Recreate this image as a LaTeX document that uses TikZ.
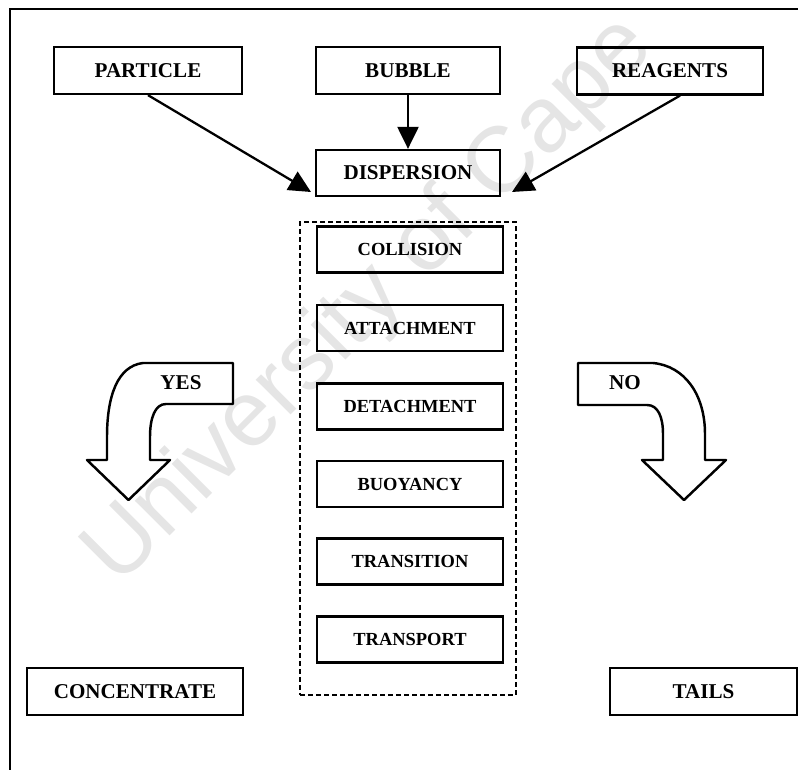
\documentclass[tikz,border=0pt]{standalone}
\usepackage{fontspec}
\setmainfont{Liberation Serif}
\newfontfamily\marksans{Liberation Sans}
\usetikzlibrary{arrows.meta}
\begin{document}
\begin{tikzpicture}[x=0.02cm, y=-0.02cm,
  box/.style={draw, line width=1.3pt, inner sep=0pt, minimum height=0.94cm,
    font=\bfseries\fontsize{12}{14}\selectfont},
  stage/.style={box, minimum width=3.72cm, minimum height=0.92cm,
    font=\bfseries\fontsize{10.5}{12}\selectfont},
  frame/.style={draw, line width=1.3pt, dash pattern=on 0.1cm off 0.06cm, inner sep=0pt},
  feed/.style={line width=1.3pt, -{Triangle[length=0.44cm,width=0.42cm]}},
  bigarrow/.style={draw, fill=white, line width=1.4pt, line join=round},
  flag/.style={font=\bfseries\fontsize{12}{14}\selectfont}]
\useasboundingbox (0,0) rectangle (798,770);
\node [rotate=45, text=black!10, font=\marksans\fontsize{53}{60}\selectfont] (mark) at (370,302) {University of Cape};
\draw [line width=1.3pt] (10,770) -- (10,9) -- (798,9);
\node [box, minimum width=3.76cm] (particle) at (148,70.5) {PARTICLE};
\node [box, minimum width=3.68cm] (bubble) at (408,70.5) {BUBBLE};
\node [box, minimum width=3.72cm] (reagents) at (670,71) {REAGENTS};
\node [box, minimum width=3.68cm, minimum height=0.92cm] (dispersion) at (408,173) {DISPERSION};
\coordinate (pin) at (311,192);
\coordinate (rin) at (512,192);
\draw [feed] (particle.south) -- (pin);
\draw [feed] (bubble.south) -- (dispersion.north);
\draw [feed] ([xshift=0.2cm]reagents.south) -- (rin);
\node [frame, minimum width=4.32cm, minimum height=9.46cm] (stages) at (408,458.5) {};
\node [stage] (collision) at (410,249.5) {COLLISION};
\node [stage] (attachment) at (410,328) {ATTACHMENT};
\node [stage] (detachment) at (410,406.5) {DETACHMENT};
\node [stage] (buoyancy) at (410,484) {BUOYANCY};
\node [stage] (transition) at (410,561.5) {TRANSITION};
\node [stage] (transport) at (410,639.5) {TRANSPORT};
\draw [bigarrow] (233,363) -- (143,363) .. controls (118,366) and (107,395) .. (107,437)
  -- (107,460) -- (87,460) -- (128.5,500) -- (170,460) -- (150,460) -- (150,437)
  .. controls (150,418) and (155,404) .. (166,404) -- (233,404) -- cycle;
\draw [bigarrow] (578,363) -- (653,363) .. controls (685,366) and (705,395) .. (705,434)
  -- (705,460) -- (726,460) -- (684,500) -- (642,460) -- (663,460) -- (663,434)
  .. controls (663,417) and (658,405) .. (647,405) -- (578,405) -- cycle;
\node [flag] (yes) at (181,383) {YES};
\node [flag] (no) at (625,383) {NO};
\node [box, minimum width=4.32cm] (concentrate) at (135,691.5) {CONCENTRATE};
\node [box, minimum width=3.74cm] (tails) at (703.5,691.5) {TAILS};
\end{tikzpicture}
\end{document}
